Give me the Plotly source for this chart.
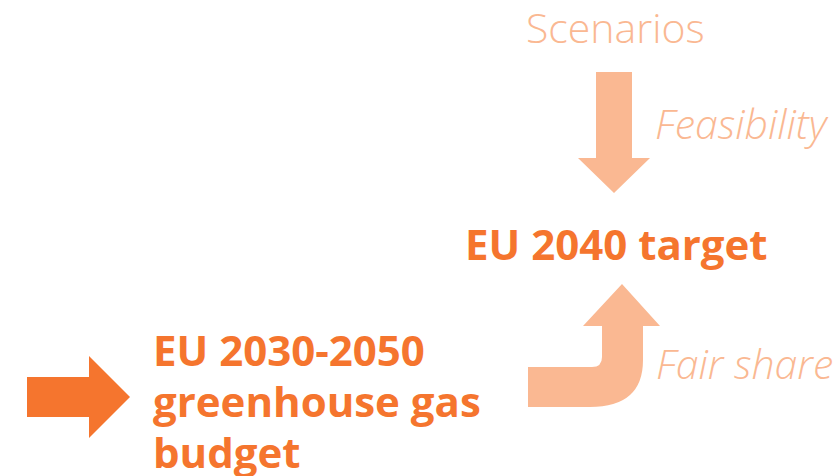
import plotly.graph_objects as go

DARK = "#F5752E"
LIGHT = "#FAB892"

title_top = "Scenarios"
label_feas = "Feasibility"
label_fair = "Fair share"
target = "EU 2040 target"
budget = ["EU 2030-2050", "greenhouse gas", "budget"]

fig = go.Figure()

# arrows drawn as paths in pixel coordinates
right_arrow = "M27,377 L89,377 L89,356 L130,397 L89,438 L89,417 L27,417 Z"
down_arrow = "M596,72 L632,72 L632,158 L650,158 L614,193 L578,158 L596,158 Z"
bent_arrow = ("M528,367 L592,367 Q602,367 602,357 L602,326 L583,326 L622,284 "
              "L660,326 L643,326 L643,360 Q643,407 590,407 L528,407 Z")

fig.add_shape(type="path", path=right_arrow, fillcolor=DARK, line_width=0)
fig.add_shape(type="path", path=down_arrow, fillcolor=LIGHT, line_width=0)
fig.add_shape(type="path", path=bent_arrow, fillcolor=LIGHT, line_width=0)

fnt = "Open Sans"
fig.add_annotation(x=615, y=27, text=title_top, showarrow=False,
                   font=dict(family=fnt, size=41, color=LIGHT, weight=300))
fig.add_annotation(x=653, y=123, text="<i>" + label_feas + "</i>", showarrow=False, xanchor="left",
                   font=dict(family=fnt, size=41, color=LIGHT, weight=300))
fig.add_annotation(x=654, y=363, text="<i>" + label_fair + "</i>", showarrow=False, xanchor="left",
                   font=dict(family=fnt, size=41, color=LIGHT, weight=300))
fig.add_annotation(x=463, y=243, text="<b>" + target + "</b>", showarrow=False, xanchor="left",
                   font=dict(family=fnt, size=42, color=DARK))
for i, line in enumerate(budget):
    fig.add_annotation(x=151, y=349 + i * 51, text="<b>" + line + "</b>", showarrow=False,
                       xanchor="left", font=dict(family=fnt, size=42, color=DARK))

fig.update_xaxes(range=[0, 836], visible=False)
fig.update_yaxes(range=[476, 0], visible=False)
fig.update_layout(width=836, height=476, margin=dict(l=0, r=0, t=0, b=0),
                  plot_bgcolor="white", paper_bgcolor="white", showlegend=False)

fig.write_html("out.html", config={"displayModeBar": False},
               post_script="document.body.style.margin='0';")
